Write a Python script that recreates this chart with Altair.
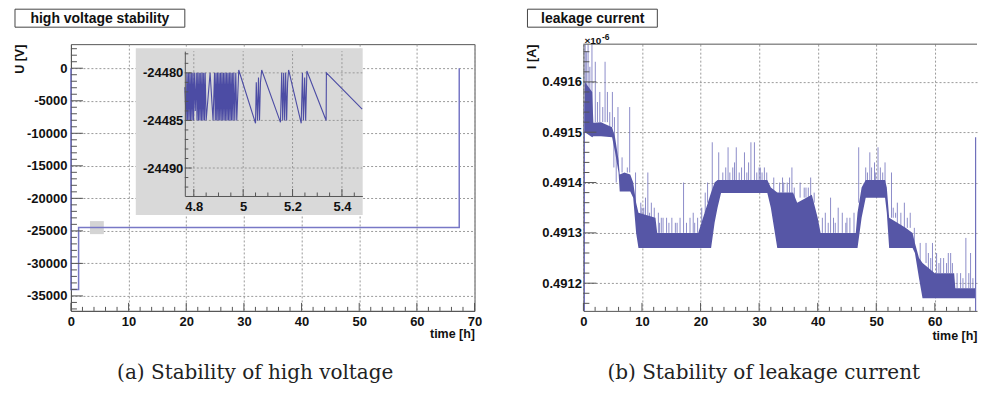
import altair as alt
import pandas as pd

# ---------------- data ----------------
# (a) high voltage, main curve
hv_t = [0.0, 0.0, 1.33, 1.33, 67.35, 67.35]
hv_u = [0, -34000, -34000, -24480, -24480, 0]

# small grey zoom marker and inset background (main-panel coordinates)
zoom_box_t = [3.3, 5.7]
zoom_box_u = [-23500, -25500]
inset_bg_t = [11.25, 50.6]
inset_bg_u = [3070, -22570]

# inset: zoom into 4.76 .. 5.48 h
inset_t = [4.7636, 4.769, 4.772, 4.775, 4.778, 4.781, 4.784, 4.787, 4.790, 4.793,
           4.796, 4.799, 4.802, 4.806, 4.810, 4.813, 4.816, 4.819, 4.822, 4.825,
           4.828, 4.831, 4.834, 4.837, 4.840, 4.843, 4.846, 4.850, 4.866, 4.878,
           4.884, 4.887, 4.890, 4.893, 4.896, 4.899, 4.902, 4.905, 4.908, 4.911,
           4.914, 4.917, 4.920, 4.923, 4.926, 4.929, 4.932, 4.935, 4.938, 4.941,
           4.944, 4.947, 4.950, 4.953, 4.956, 4.959, 4.962, 4.966, 4.970, 4.974,
           4.982, 5.050, 5.053, 5.058, 5.062, 5.066, 5.070, 5.075, 5.151, 5.156,
           5.160, 5.164, 5.168, 5.172, 5.176, 5.180, 5.184, 5.235, 5.240, 5.244,
           5.249, 5.253, 5.258, 5.336, 5.337, 5.482]
inset_u = [-24481.5, -24485, -24480, -24485, -24480, -24485, -24480, -24485, -24480, -24485,
           -24480, -24485, -24480, -24484, -24480, -24485, -24480, -24485, -24480, -24485,
           -24480, -24485, -24480, -24485, -24480, -24485, -24480, -24485, -24480, -24485,
           -24480, -24485, -24480, -24485, -24480, -24485, -24480, -24485, -24480, -24485,
           -24480, -24485, -24480, -24485, -24480, -24485, -24480, -24485, -24480, -24485,
           -24480, -24485, -24480, -24485, -24480, -24485, -24480, -24485, -24480, -24485,
           -24479.7, -24485.3, -24481, -24485, -24480.5, -24485, -24481, -24479.7, -24485.2, -24480,
           -24485, -24480, -24485, -24480, -24485, -24481, -24479.7, -24485.3, -24480, -24485,
           -24480.5, -24485, -24479.8, -24485, -24480, -24483.8]
assert len(inset_t) == len(inset_u)

# (b) leakage current (values in units of 1e-6 A): dense band envelope
band_t = [0.25, 1.5, 1.7, 3.0, 4.9, 5.4, 6.0, 6.2, 7.0, 8.0,
          8.5, 9.0, 9.4, 12.3, 12.6, 19.6, 20.7, 21.8, 22.4, 22.9,
          23.5, 27.0, 31.4, 32.0, 33.1, 35.8, 36.5, 39.0, 40.0, 40.5,
          46.5, 46.8, 47.5, 48.2, 51.5, 51.8, 52.2, 55.0, 56.2, 56.6,
          57.3, 57.9, 60.0, 63.3, 63.5, 66.95]
band_lo = [0.49150, 0.49149, 0.491492, 0.491492, 0.491490, 0.49146, 0.49142, 0.491382, 0.491382, 0.491382,
           0.49137, 0.49130, 0.49127, 0.49127, 0.49127, 0.49127, 0.49127, 0.49127, 0.49132, 0.49135,
           0.491379, 0.491379, 0.491379, 0.49135, 0.49127, 0.49127, 0.49127, 0.49127, 0.49127, 0.49127,
           0.49127, 0.49127, 0.49133, 0.49137, 0.49137, 0.49134, 0.49127, 0.49127, 0.49127, 0.49126,
           0.49121, 0.49117, 0.49117, 0.49117, 0.49117, 0.49117]
band_hi = [0.49160, 0.49158, 0.491519, 0.49152, 0.49151, 0.49149, 0.491445, 0.491416, 0.49142, 0.491416,
           0.49140, 0.49136, 0.49134, 0.49133, 0.49130, 0.49130, 0.49134, 0.49138, 0.49140, 0.491405,
           0.491405, 0.491405, 0.491405, 0.49139, 0.49138, 0.49138, 0.49136, 0.491376, 0.49133, 0.49130,
           0.49130, 0.49134, 0.49139, 0.491405, 0.491405, 0.49139, 0.49133, 0.49131, 0.49130, 0.49128,
           0.49125, 0.49124, 0.49122, 0.49122, 0.49119, 0.49119]
assert len(band_t) == len(band_lo) == len(band_hi)

# individual tall spikes (time, base, tip)
spike_t = [0.3, 0.5, 0.8, 1.1, 1.46, 2.03, 2.4, 2.8, 3.3, 3.7,
           4.1, 4.5, 4.95, 5.3, 5.9, 6.6, 7.5, 7.9, 8.9, 10.0,
           10.6, 11.0, 11.3, 12.8, 13.6, 14.2, 15.7, 17.1, 18.75, 19.5,
           20.8, 22.0, 23.1, 24.7, 25.5, 26.1, 27.5, 28.6, 29.2, 30.2,
           30.9, 32.5, 34.2, 35.6, 37.7, 38.4, 41.3, 42.2, 43.5, 45.0,
           46.2, 47.0, 48.2, 48.9, 49.7, 50.3, 51.5, 52.6, 53.6, 54.8,
           56.5, 57.5, 58.5, 59.6, 61.0, 62.0, 62.7, 64.4, 65.3, 66.1,
           5.2, 5.6]
spike_base = [0.4915, 0.4915, 0.4915, 0.4915, 0.4915, 0.49152, 0.49152, 0.49152, 0.49152, 0.49152,
              0.49152, 0.49151, 0.49151, 0.49148, 0.49144, 0.49142, 0.49142, 0.49142, 0.49134, 0.49133,
              0.49133, 0.49133, 0.49133, 0.4913, 0.4913, 0.4913, 0.4913, 0.4913, 0.4913, 0.4913,
              0.49134, 0.49138, 0.4914, 0.4914, 0.4914, 0.4914, 0.4914, 0.4914, 0.4914, 0.4914,
              0.4914, 0.49138, 0.49138, 0.49138, 0.49137, 0.49137, 0.4913, 0.4913, 0.4913, 0.4913,
              0.4913, 0.49136, 0.4914, 0.4914, 0.4914, 0.4914, 0.4914, 0.49133, 0.49131, 0.49131,
              0.49128, 0.49124, 0.49124, 0.49122, 0.49122, 0.49122, 0.49122, 0.49119, 0.49119, 0.49119,
              0.49149, 0.49146]
spike_top = [0.491676, 0.49166, 0.491676, 0.49163, 0.491676, 0.49164, 0.49156, 0.49158, 0.49155, 0.49164,
             0.49158, 0.49154, 0.49158, 0.49153, 0.49155, 0.49145, 0.49143, 0.49155, 0.49142, 0.49135,
             0.49137, 0.49142, 0.49134, 0.49134, 0.49133, 0.49133, 0.49132, 0.4914, 0.49134, 0.49133,
             0.49138, 0.49148, 0.49146, 0.49147, 0.49143, 0.49147, 0.49146, 0.49148, 0.49148, 0.49143,
             0.49143, 0.49141, 0.4914, 0.49143, 0.49139, 0.49139, 0.49134, 0.49137, 0.49135, 0.49133,
             0.49134, 0.49147, 0.49143, 0.49146, 0.49144, 0.49147, 0.49144, 0.49142, 0.49136, 0.49136,
             0.49131, 0.49128, 0.49128, 0.49128, 0.49125, 0.49124, 0.49126, 0.49122, 0.49129, 0.49126,
             0.49143, 0.49140]
assert len(spike_t) == len(spike_base) == len(spike_top)

# short fuzz spikes along the top of the band
fuzz_t = [9.8, 10.3, 11.6, 12.1, 13.0, 13.3, 14.6, 15.1, 16.0, 16.5,
          17.6, 18.2, 19.0, 20.2, 21.2, 23.8, 24.3, 25.0, 25.8, 26.6,
          27.0, 27.9, 28.2, 29.6, 30.0, 30.5, 31.3, 33.5, 34.0, 34.8,
          35.2, 36.0, 37.0, 38.0, 38.8, 39.4, 40.8, 41.8, 42.7, 43.0,
          44.2, 44.8, 45.5, 48.5, 49.2, 49.9, 50.7, 51.1, 52.9, 53.3,
          54.2, 55.3, 55.8, 58.9, 59.3, 60.3, 60.7, 61.5, 62.3, 63.0,
          63.8, 64.8, 65.8, 66.5]
fuzz_base = [0.49133, 0.49133, 0.49133, 0.49133, 0.4913, 0.4913, 0.4913, 0.4913, 0.4913, 0.4913,
             0.4913, 0.4913, 0.4913, 0.49132, 0.49136, 0.4914, 0.4914, 0.4914, 0.4914, 0.4914,
             0.4914, 0.4914, 0.4914, 0.4914, 0.4914, 0.4914, 0.4914, 0.49138, 0.49138, 0.49138,
             0.49138, 0.49136, 0.49137, 0.49137, 0.49137, 0.49136, 0.4913, 0.4913, 0.4913, 0.4913,
             0.4913, 0.4913, 0.4913, 0.4914, 0.4914, 0.4914, 0.4914, 0.4914, 0.49133, 0.49133,
             0.49131, 0.49131, 0.49131, 0.49122, 0.49122, 0.49122, 0.49122, 0.49122, 0.49122, 0.49122,
             0.49119, 0.49119, 0.49119, 0.49119]
fuzz_top = [0.49136, 0.49135, 0.49136, 0.49135, 0.49132, 0.49133, 0.49132, 0.49133, 0.49132, 0.49133,
            0.49132, 0.49133, 0.49132, 0.49135, 0.4914, 0.49142, 0.49143, 0.49142, 0.49144, 0.49142,
            0.49143, 0.49142, 0.49144, 0.49142, 0.49143, 0.49142, 0.49142, 0.4914, 0.49141, 0.4914,
            0.49141, 0.49139, 0.4914, 0.49139, 0.49141, 0.49138, 0.49133, 0.49132, 0.49133, 0.49132,
            0.49134, 0.49132, 0.49133, 0.49142, 0.49143, 0.49142, 0.49143, 0.49142, 0.49135, 0.49134,
            0.49134, 0.49133, 0.49134, 0.49126, 0.49125, 0.49126, 0.49124, 0.49125, 0.49126, 0.49124,
            0.49122, 0.49121, 0.49122, 0.49121]
assert len(fuzz_t) == len(fuzz_base) == len(fuzz_top)

# ramp-up / ramp-down edges (go off the bottom of the scale)
edge_t = [0.17, 66.96]
edge_lo = [0.4911, 0.4911]
edge_hi = [0.49156, 0.49149]

# tick values
hv_x_major = [0, 10, 20, 30, 40, 50, 60, 70]
hv_x_minor = [v for v in range(2, 70, 2) if v % 10]
hv_y_major = [0, -5000, -10000, -15000, -20000, -25000, -30000, -35000]
hv_y_minor = [v for v in range(-37000, 3001, 1000) if v % 5000]
in_x_major = [4.8, 5.0, 5.2, 5.4]
in_x_minor = [4.85, 4.9, 4.95, 5.05, 5.1, 5.15, 5.25, 5.3, 5.35, 5.45]
in_y_major = [-24480, -24485, -24490]
in_y_minor = [-24478, -24479, -24481, -24482, -24483, -24484, -24486, -24487, -24488, -24489,
              -24491, -24492]
lc_x_major = [0, 10, 20, 30, 40, 50, 60]
lc_x_minor = [v for v in range(2, 67, 2) if v % 10]
lc_y_major = [0.4912, 0.4913, 0.4914, 0.4915, 0.4916]
lc_y_minor = [0.49116, 0.49118, 0.49122, 0.49124, 0.49126, 0.49128, 0.49132, 0.49134, 0.49136,
              0.49138, 0.49142, 0.49144, 0.49146, 0.49148, 0.49152, 0.49154, 0.49156, 0.49158,
              0.49162, 0.49164, 0.49166]

panel_titles = ["high voltage stability", "leakage current"]
captions = ["(a) Stability of high voltage", "(b) Stability of leakage current"]

# ---------------- layout ----------------
W1, W2, H = 404, 394, 267
IX0, IX1, IY0, IY1 = 114, 291.7, 152, 7
FONT = "Liberation Sans"
AX = "#555555"
GRID = "#9a9a9a"
LBL = "'' + datum.value"

HV_X = alt.Scale(domain=[0, 70], nice=False, zero=False)
HV_Y = alt.Scale(domain=[-37300, 3700], nice=False, zero=False)
IN_X = alt.Scale(domain=[4.7636, 5.4826], range=[IX0, IX1], nice=False, zero=False)
IN_Y = alt.Scale(domain=[-24492.94, -24477.72], range=[IY0, IY1], nice=False, zero=False)
LC_X = alt.Scale(domain=[0, 67.2], nice=False, zero=False)
LC_Y = alt.Scale(domain=[0.491145, 0.491675], nice=False, zero=False)

hv_xaxis = alt.Axis(values=hv_x_major, labelExpr=LBL, grid=True, ticks=False, labelPadding=5,
                    title="time [h]", titleX=W1, titleY=27, titleAlign="right",
                    titleBaseline="alphabetic", titleAngle=0, orient="bottom")
hv_yaxis = alt.Axis(values=hv_y_major, labelExpr=LBL, grid=True, ticks=False, labelPadding=4,
                    title="U [V]", titleX=-51, titleY=0, titleAngle=270, titleAlign="right",
                    titleBaseline="middle", orient="left")
in_xaxis = alt.Axis(values=in_x_major, labelExpr=LBL, grid=False, ticks=False, labelPadding=5,
                    title=None, orient="bottom", offset=IY0 - H, zindex=1)
in_yaxis = alt.Axis(values=in_y_major, labelExpr=LBL, grid=False, ticks=False, labelPadding=2,
                    title=None, orient="left", offset=-IX0, zindex=1)
lc_xaxis = alt.Axis(values=lc_x_major, labelExpr=LBL, grid=True, ticks=False, labelPadding=5,
                    title="time [h]", titleX=W2, titleY=28.5, titleAlign="right",
                    titleBaseline="alphabetic", titleAngle=0, orient="bottom")
lc_yaxis = alt.Axis(values=lc_y_major, labelExpr=LBL, grid=True, ticks=False, labelPadding=2,
                    title="I [A]", titleX=-52, titleY=0, titleAngle=270, titleAlign="right",
                    titleBaseline="middle", orient="left")


def hx(f): return alt.X(f, type="quantitative", scale=HV_X, axis=hv_xaxis)
def hy(f): return alt.Y(f, type="quantitative", scale=HV_Y, axis=hv_yaxis)
def ix(f): return alt.X(f, type="quantitative", scale=IN_X, axis=in_xaxis)
def iy(f): return alt.Y(f, type="quantitative", scale=IN_Y, axis=in_yaxis)
def lx(f): return alt.X(f, type="quantitative", scale=LC_X, axis=lc_xaxis)
def ly(f): return alt.Y(f, type="quantitative", scale=LC_Y, axis=lc_yaxis)


def df(**cols): return pd.DataFrame(cols)


def yticks(vals, enc, x0, length):
    return alt.Chart(df(v=vals)).mark_rule(color=AX, strokeWidth=1).encode(
        y=enc("v"), x=alt.value(x0), x2=alt.value(x0 + length))


def xticks(vals, enc, y0, length):
    return alt.Chart(df(v=vals)).mark_rule(color=AX, strokeWidth=1).encode(
        x=enc("v"), y=alt.value(y0), y2=alt.value(y0 - length))


def title_box(text, x0, x1, xc):
    box = alt.Chart(df(label=[text])).mark_rect(fill="white", stroke="#444", strokeWidth=1).encode(
        x=alt.value(x0), x2=alt.value(x1), y=alt.value(-35), y2=alt.value(-17))
    txt = alt.Chart(df(label=[text])).mark_text(font=FONT, fontSize=14, fontWeight="bold",
                                                color="#111", align="center",
                                                baseline="alphabetic").encode(
        x=alt.value(xc), y=alt.value(-21.3), text="label:N")
    return [box, txt]


def caption(text, xc):
    return alt.Chart(df(label=[text])).mark_text(font="DejaVu Serif", fontSize=20, color="#222",
                                                 align="center", baseline="alphabetic").encode(
        x=alt.value(xc), y=alt.value(335), text="label:N")


# ---------- panel (a) ----------
hv_line_df = df(t=hv_t, u=hv_u, i=list(range(len(hv_t))))
main_group = alt.layer(
    alt.Chart(df(t0=[zoom_box_t[0]], t1=[zoom_box_t[1]], u0=[zoom_box_u[0]], u1=[zoom_box_u[1]]))
    .mark_rect(color="#d4d4d4").encode(x=hx("t0"), x2="t1", y=hy("u0"), y2="u1"),
    alt.Chart(hv_line_df).mark_line(color="#7878c6", strokeWidth=1.5).encode(
        x=hx("t"), y=hy("u"), order="i:Q"),
    yticks(hv_y_major, hy, 0, 12),
    yticks(hv_y_minor, hy, 0, 6),
    xticks(hv_x_major, hx, H, 8),
    xticks(hv_x_minor, hx, H, 4),
    alt.Chart(df(t0=[inset_bg_t[0]], t1=[inset_bg_t[1]], u0=[inset_bg_u[0]], u1=[inset_bg_u[1]]))
    .mark_rect(color="#d9d9d9").encode(x=hx("t0"), x2="t1", y=hy("u0"), y2="u1"),
)

in_dom_x = IN_X.domain
in_dom_y = IN_Y.domain
inset_group = alt.layer(
    alt.Chart(df(v=in_x_major, lo=[in_dom_y[0]] * 4, hi=[in_dom_y[1]] * 4))
    .mark_rule(color=GRID, strokeDash=[2, 2], strokeWidth=1).encode(x=ix("v"), y=iy("lo"), y2="hi"),
    alt.Chart(df(v=in_y_major, lo=[in_dom_x[0]] * 3, hi=[in_dom_x[1]] * 3))
    .mark_rule(color=GRID, strokeDash=[2, 2], strokeWidth=1).encode(y=iy("v"), x=ix("lo"), x2="hi"),
    alt.Chart(df(t=inset_t, u=inset_u, i=list(range(len(inset_t))))).mark_line(
        color="#4c4ca4", strokeWidth=1.1).encode(x=ix("t"), y=iy("u"), order="i:Q"),
    yticks(in_y_major, iy, IX0, 7),
    yticks(in_y_minor, iy, IX0, 3.5),
    xticks(in_x_major, ix, IY0, 7),
    xticks(in_x_minor, ix, IY0, 3.5),
)

panel_a = alt.layer(
    main_group, inset_group,
    *title_box(panel_titles[0], -56, 114, 29),
    caption(captions[0], 184.5),
).resolve_scale(x="independent", y="independent").properties(
    width=W1, height=H, view=alt.ViewBackground(stroke=AX, strokeWidth=1))

# ---------- panel (b) ----------
BAND = "#5656a6"
SPIKE = "#7070bb"
panel_b = alt.layer(
    alt.Chart(df(t=spike_t, b=spike_base, s=spike_top)).mark_rule(
        color=SPIKE, strokeWidth=1, opacity=0.8, clip=True).encode(x=lx("t"), y=ly("b"), y2="s"),
    alt.Chart(df(t=fuzz_t, b=fuzz_base, s=fuzz_top)).mark_rule(
        color=SPIKE, strokeWidth=1, opacity=0.8, clip=True).encode(x=lx("t"), y=ly("b"), y2="s"),
    alt.Chart(df(t=band_t, lo=band_lo, hi=band_hi)).mark_area(color=BAND, clip=True).encode(
        x=lx("t"), y=ly("lo"), y2="hi"),
    alt.Chart(df(t=edge_t, lo=edge_lo, hi=edge_hi)).mark_rule(
        color=SPIKE, strokeWidth=1.2, clip=True).encode(x=lx("t"), y=ly("lo"), y2="hi"),
    yticks(lc_y_major, ly, 0, 13),
    yticks(lc_y_minor, ly, 0, 6),
    xticks(lc_x_major, lx, H, 8),
    xticks(lc_x_minor, lx, H, 4),
    alt.Chart(df(label=["frame"])).mark_rule(color=AX, strokeWidth=1).encode(
        x=alt.value(0), x2=alt.value(W2), y=alt.value(0)),
    alt.Chart(df(label=["\u00d710"])).mark_text(font=FONT, fontSize=10, fontWeight="bold",
                                                 color="#111", align="left",
                                                 baseline="alphabetic").encode(
        x=alt.value(1), y=alt.value(-0.5), text="label:N"),
    alt.Chart(df(label=["-6"])).mark_text(font=FONT, fontSize=8.5, fontWeight="bold",
                                          color="#111", align="left",
                                          baseline="alphabetic").encode(
        x=alt.value(18.5), y=alt.value(-4), text="label:N"),
    *title_box(panel_titles[1], -56, 74, 9.3),
    caption(captions[1], 180.5),
).properties(width=W2, height=H)

chart = alt.hconcat(panel_a, panel_b, spacing=109, bounds="flush").configure_view(
    stroke=None
).configure_axis(
    labelFont=FONT, labelFontSize=13, labelFontWeight="bold", labelColor="#111",
    titleFont=FONT, titleFontSize=12.5, titleFontWeight="bold", titleColor="#111",
    domainColor=AX, domainWidth=1, gridColor=GRID, gridDash=[2, 2], gridWidth=1,
    labelFlush=False, labelOverlap=False,
).properties(
    padding={"left": 5, "top": 0, "right": 0, "bottom": 0},
    background="white",
)

chart.save("out.html", embed_options={"renderer": "svg", "actions": False})
